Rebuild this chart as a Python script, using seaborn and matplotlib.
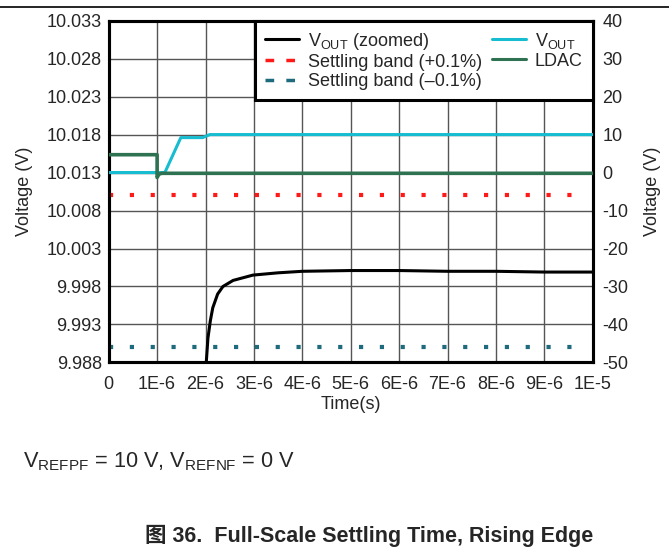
import numpy as np
import matplotlib
matplotlib.use("Agg")
import matplotlib.pyplot as plt
from matplotlib.lines import Line2D
import seaborn as sns

# zoomed output (left axis, V)
t_zoom = [2.01e-6, 2.05e-6, 2.10e-6, 2.15e-6, 2.25e-6, 2.36e-6, 2.57e-6, 2.98e-6,
          3.5e-6, 4.0e-6, 5.0e-6, 6.0e-6, 7.0e-6, 8.0e-6, 9.0e-6, 1.0e-5]
v_zoom = [9.9875, 9.9912, 9.9935, 9.9952, 9.9970, 9.9980, 9.9988, 9.9995,
          9.9998, 10.0000, 10.0001, 10.0001, 10.0000, 10.0000, 9.9999, 9.9999]

# settling bands (left axis, V)
t_band = [0.0, 9.8e-6]
band_hi = [10.010, 10.010]
band_lo = [9.990, 9.990]

# full-scale output (right axis, V)
t_vout = [0.0, 1.16e-6, 1.49e-6, 1.94e-6, 2.09e-6, 1.0e-5]
v_vout = [0.0, 0.0, 9.2, 9.2, 10.0, 10.0]

# LDAC (right axis, V)
t_ldac = [0.0, 1.0e-6, 1.0e-6, 1.04e-6, 1.1e-6, 1.0e-5]
v_ldac = [4.7, 4.7, -1.3, -0.4, -0.2, -0.2]

xticks = np.arange(0, 11) * 1e-6
xlabels = ["0"] + ["%dE-6" % i for i in range(1, 10)] + ["1E-5"]
left_ticks = [9.988, 9.993, 9.998, 10.003, 10.008, 10.013, 10.018, 10.023, 10.028, 10.033]
right_ticks = [-50, -40, -30, -20, -10, 0, 10, 20, 30, 40]

sns.set_style("white")
plt.rcParams["font.family"] = ["Liberation Sans", "Noto Sans CJK SC"]
plt.rcParams["axes.unicode_minus"] = False

fig = plt.figure(figsize=(6.69, 5.5), dpi=100)
ax = fig.add_axes([0.1625, 0.341, 0.7235, 0.6215])
ax2 = ax.twinx()

red = "#ff1a1a"
teal = "#1d6b7c"
cyan = "#16bcd0"
green = "#2e7252"

kw = dict(sort=False, estimator=None)
sns.lineplot(x=t_band, y=band_hi, ax=ax, color=red, lw=3, zorder=3, **kw)
ax.lines[-1].set_dashes((1, 4))
sns.lineplot(x=t_band, y=band_lo, ax=ax, color=teal, lw=3, zorder=3, **kw)
ax.lines[-1].set_dashes((1, 4))
sns.lineplot(x=t_zoom, y=v_zoom, ax=ax, color="black", lw=2.2, zorder=4, **kw)

sns.lineplot(x=t_vout, y=v_vout, ax=ax2, color=cyan, lw=2.2, zorder=4, **kw)
sns.lineplot(x=t_ldac, y=v_ldac, ax=ax2, color=green, lw=2.6, zorder=4, **kw)

ax.set_xlim(0, 1e-5)
ax.set_ylim(9.988, 10.033)
ax.set_yticks(left_ticks)
ax.set_yticklabels(["%.3f" % v for v in left_ticks])
ax2.set_ylim(-50, 40)
ax2.set_yticks(right_ticks)
ax.set_xticks(xticks)
ax.set_xticklabels(xlabels)

ax.grid(True, color="#555555", lw=1)
ax2.grid(False)
ax.tick_params(axis="y", length=0, labelsize=13, pad=5)
ax.tick_params(axis="x", length=0, labelsize=13, pad=10)
ax2.tick_params(length=0, labelsize=13, pad=7)
for a in (ax, ax2):
    for s in a.spines.values():
        s.set_linewidth(2.2)
        s.set_color("black")
ax.set_axisbelow(True)

ax.set_xlabel("Time(s)", fontsize=13, labelpad=2)
ax.set_ylabel("Voltage (V)", fontsize=13, labelpad=10)
ax2.set_ylabel("Voltage (V)", fontsize=13, labelpad=11)

handles = [
    Line2D([], [], color="black", lw=2.2),
    Line2D([], [], color=red, lw=2.5, dashes=(2.5, 3.5)),
    Line2D([], [], color=teal, lw=2.5, dashes=(2.5, 3.5)),
    Line2D([], [], color=cyan, lw=2.2),
    Line2D([], [], color=green, lw=2.2),
]
labels = [r"V$_{\mathregular{OUT}}$ (zoomed)", "Settling band (+0.1%)",
          "Settling band (\u20130.1%)", r"V$_{\mathregular{OUT}}$", "LDAC"]
leg = ax2.legend(handles, labels, ncol=2, loc="upper right", fontsize=13,
                 frameon=True, fancybox=False, borderaxespad=0,
                 handlelength=1.9, handletextpad=0.5, columnspacing=0.5,
                 labelspacing=0.12, borderpad=0.55, framealpha=1)
leg.get_frame().set_edgecolor("black")
leg.get_frame().set_linewidth(2.2)
leg.set_zorder(10)

fig.add_artist(Line2D([0, 1], [0.987, 0.987], color="black", lw=1.2,
                      transform=fig.transFigure))
fig.text(0.034, 0.16, r"V$_{\mathregular{REFPF}}$ = 10 V, V$_{\mathregular{REFNF}}$ = 0 V",
         fontsize=15.7, va="center")
fig.text(0.552, 0.025, "图 36.  Full-Scale Settling Time, Rising Edge",
         fontsize=15.5, fontweight="bold", ha="center", va="center")

fig.savefig("out.png", dpi=100)
